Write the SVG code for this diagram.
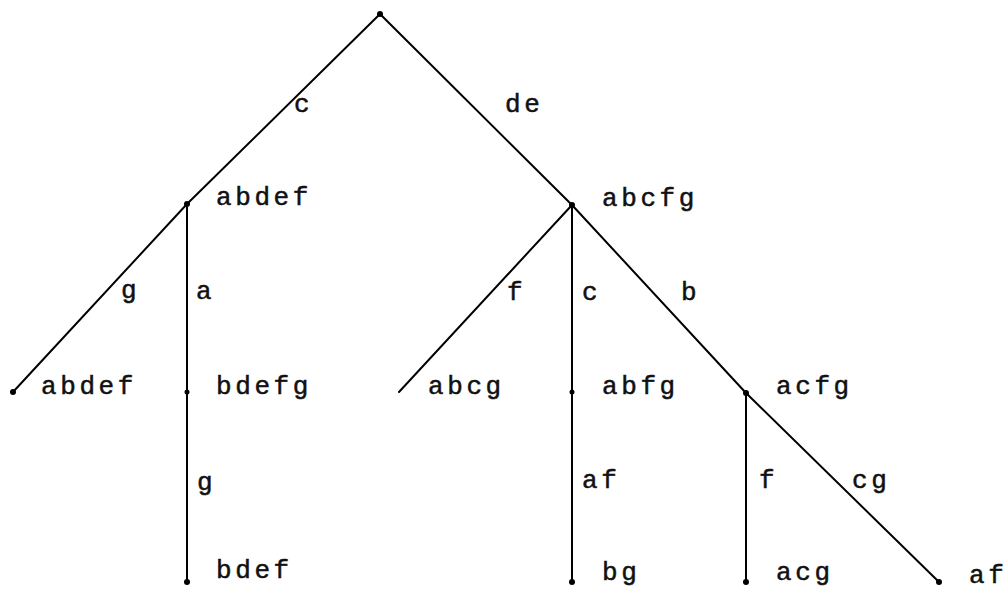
<svg xmlns="http://www.w3.org/2000/svg" width="1008" height="592" viewBox="0 0 1008 592">
<style>
.e{stroke:#000;stroke-width:2;fill:none;stroke-linecap:round}
.d{fill:#000}
text{font-family:"Liberation Mono","Courier New",monospace;font-size:26px;letter-spacing:3.6px;fill:#111;stroke:#111;stroke-width:0.5}
</style>
<rect width="1008" height="592" fill="#fff"/>
<g id="connectors">
<line class="e" x1="380" y1="14" x2="187" y2="204"/>
<line class="e" x1="380" y1="14" x2="572" y2="205"/>
<line class="e" x1="187" y1="204" x2="13" y2="392"/>
<line class="e" x1="187" y1="204" x2="187" y2="582"/>
<line class="e" x1="572" y1="205" x2="399" y2="392"/>
<line class="e" x1="572" y1="205" x2="572" y2="582"/>
<line class="e" x1="572" y1="205" x2="746" y2="393"/>
<line class="e" x1="746" y1="393" x2="746" y2="582"/>
<line class="e" x1="746" y1="393" x2="939" y2="582"/>
<text x="294" y="112">c</text>
<text x="505" y="112">de</text>
<text x="121" y="298">g</text>
<text x="196" y="299">a</text>
<text x="507" y="300">f</text>
<text x="582" y="300">c</text>
<text x="681" y="300">b</text>
<text x="197" y="490">g</text>
<text x="582" y="488">af</text>
<text x="759" y="488">f</text>
<text x="852" y="488">cg</text>
</g>
<g id="root"><circle class="d" cx="380" cy="14" r="3"/></g>
<g id="n1"><circle class="d" cx="187" cy="204" r="3"/><text x="216" y="205">abdef</text></g>
<g id="n2"><circle class="d" cx="572" cy="205" r="3"/><text x="602" y="206">abcfg</text></g>
<g id="n3"><circle class="d" cx="13" cy="392" r="3"/><text x="41" y="394">abdef</text></g>
<g id="n4"><circle class="d" cx="187" cy="392" r="2.5"/><text x="216" y="394">bdefg</text></g>
<g id="n5"><text x="428" y="394">abcg</text></g>
<g id="n6"><circle class="d" cx="572" cy="392" r="2.5"/><text x="602" y="394">abfg</text></g>
<g id="n7"><circle class="d" cx="746" cy="393" r="3"/><text x="776" y="394">acfg</text></g>
<g id="n8"><circle class="d" cx="187" cy="582" r="3"/><text x="216" y="578">bdef</text></g>
<g id="n9"><circle class="d" cx="572" cy="582" r="3"/><text x="602" y="580">bg</text></g>
<g id="n10"><circle class="d" cx="746" cy="582" r="3"/><text x="776" y="580">acg</text></g>
<g id="n11"><circle class="d" cx="939" cy="582" r="3"/><text x="969" y="583">af</text></g>
</svg>
